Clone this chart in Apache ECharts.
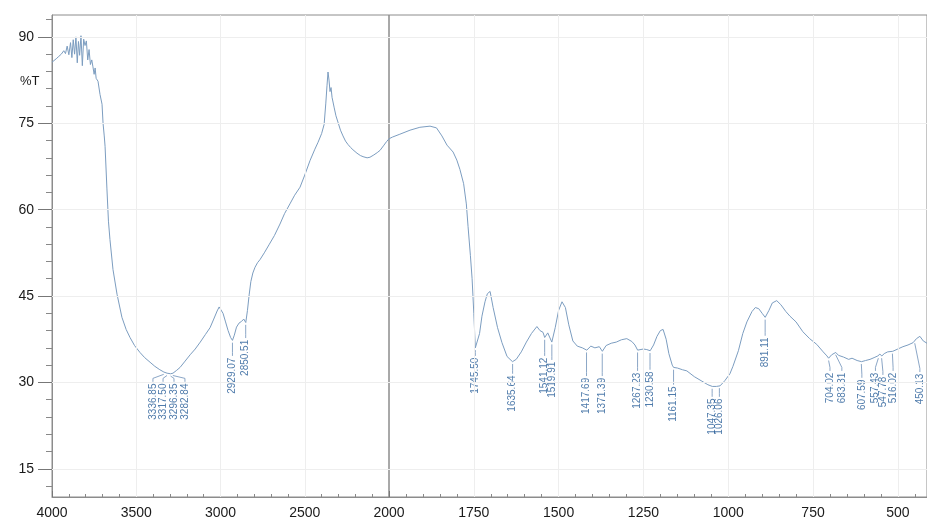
<!DOCTYPE html>
<html><head><meta charset="utf-8">
<script src="https://cdn.jsdelivr.net/npm/echarts@6/dist/echarts.min.js"></script>
<style>html,body{margin:0;padding:0;background:#fff}#c{width:927px;height:522px}</style>
</head><body><div id="c"></div>
<script>
// Spectrum, high-wavenumber part (4000-2000 cm-1), [wavenumber, %T]
const spectrumHigh = [[4000,85.6],[3990,85.8],[3975,86.2],[3960,86.6],[3945,87.0],[3930,87.6],[3920,87.1],[3910,88.4],[3900,86.9],[3890,89.0],[3882,86.4],[3874,89.5],[3866,87.0],[3858,90.0],[3850,85.5],[3843,89.2],[3836,86.8],[3828,90.2],[3820,85.0],[3812,89.6],[3804,88.5],[3796,89.3],[3788,86.0],[3780,87.8],[3772,85.2],[3764,86.0],[3757,84.8],[3750,83.5],[3744,84.6],[3738,82.8],[3727,82.3],[3715,80.0],[3703,78.3],[3697,75.0],[3690,72.8],[3685,71.0],[3674,63.6],[3665,58.0],[3656,54.8],[3638,49.6],[3614,45.3],[3585,41.3],[3560,39.2],[3537,37.8],[3510,36.4],[3478,35.2],[3450,34.3],[3418,33.5],[3390,32.8],[3360,32.2],[3336,31.8],[3317,31.6],[3296,31.5],[3282,31.6],[3260,32.1],[3240,32.6],[3210,33.7],[3180,34.8],[3150,35.8],[3120,37.0],[3090,38.3],[3062,39.5],[3040,41.0],[3020,42.4],[3008,43.1],[2998,43.0],[2985,42.0],[2970,40.5],[2955,39.0],[2940,37.8],[2929,37.3],[2918,38.2],[2905,39.6],[2890,40.3],[2875,40.6],[2862,41.0],[2850,40.4],[2840,42.5],[2830,45.2],[2820,47.5],[2808,49.0],[2795,50.0],[2780,50.8],[2766,51.3],[2740,52.5],[2710,54.0],[2680,55.5],[2647,57.5],[2620,59.3],[2588,61.0],[2560,62.5],[2528,63.9],[2500,66.0],[2469,68.5],[2440,70.5],[2421,71.7],[2400,73.2],[2385,74.8],[2375,78.5],[2368,81.5],[2362,83.9],[2356,82.5],[2350,80.5],[2344,81.2],[2338,79.5],[2326,77.8],[2315,76.3],[2303,75.2],[2288,73.8],[2273,72.8],[2258,71.9],[2243,71.3],[2228,70.8],[2214,70.4],[2190,69.8],[2170,69.4],[2154,69.2],[2130,69.0],[2113,69.1],[2090,69.5],[2070,69.9],[2053,70.3],[2030,71.2],[2015,71.8],[2000,72.3]];

// Spectrum, low-wavenumber part (2000-414 cm-1)
const spectrumLow = [[2000,72.3],[1990,72.6],[1968,73.1],[1938,73.8],[1909,74.3],[1879,74.5],[1860,74.2],[1844,72.8],[1829,71.2],[1811,70.0],[1800,68.6],[1791,67.0],[1780,64.5],[1772,61.0],[1767,57.1],[1760,52.0],[1755,48.0],[1750,42.0],[1745.5,36.0],[1741,35.7],[1733,38.5],[1726,41.5],[1717,44.0],[1710,45.4],[1702,45.8],[1693,43.0],[1680,39.5],[1667,36.9],[1652,34.5],[1636,33.6],[1625,34.0],[1610,35.3],[1595,37.0],[1580,38.5],[1564,39.7],[1555,39.0],[1546,38.7],[1541,37.8],[1532,38.6],[1520,37.0],[1510,39.5],[1500,42.5],[1490,44.0],[1480,43.0],[1470,40.0],[1458,37.2],[1445,36.3],[1430,36.0],[1417,35.6],[1405,36.3],[1393,36.0],[1380,36.2],[1371,35.4],[1360,36.4],[1345,36.8],[1330,37.0],[1315,37.4],[1299,37.6],[1284,37.1],[1275,36.5],[1267,35.6],[1250,35.8],[1240,35.7],[1230,35.5],[1220,36.5],[1210,38.0],[1200,39.0],[1192,39.2],[1183,37.5],[1175,35.0],[1165,33.0],[1161,32.6],[1150,32.5],[1135,32.2],[1122,32.0],[1100,31.0],[1080,30.3],[1060,29.6],[1047,29.3],[1035,29.3],[1024,29.4],[1010,30.3],[995,31.5],[986,32.8],[970,35.5],[957,38.5],[945,40.5],[930,42.3],[920,43.0],[910,42.8],[900,42.0],[891,41.3],[880,42.5],[870,43.8],[857,44.2],[845,43.5],[830,42.3],[818,41.5],[800,40.5],[780,38.8],[760,37.6],[739,36.6],[720,35.3],[709,34.6],[704,34.2],[695,34.8],[683,35.2],[675,34.7],[660,34.4],[645,34.0],[635,34.2],[620,33.8],[607,33.6],[595,33.8],[582,34.0],[570,34.3],[559,34.6],[553,34.9],[547,34.6],[540,35.0],[530,35.3],[515,35.4],[500,35.8],[485,36.2],[470,36.5],[455,36.9],[445,37.6],[435,38.0],[425,37.2],[414,36.8]];

// Axis ticks
const xTicksHigh = [2000,2500,3000,3500,4000];
const xTicksLow = [500,750,1000,1250,1500,1750];
const xMinorLow = [450,500,550,600,650,700,750,800,850,900,950,1000,1050,1100,1150,1200,1250,1300,1350,1400,1450,1500,1550,1600,1650,1700,1750,1800,1850,1900,1950];
const yTicks = [15,30,45,60,75,90];
const yMinor = [12,18,21,24,27,33,36,39,42,48,51,54,57,63,66,69,72,78,81,84,87,93];

// Peak annotations
const peakText = ['3336.85','3317.50','3296.35','3282.84','2929.07','2850.51','1745.50','1635.64','1541.12','1519.91','1417.69','1371.39','1267.23','1230.58','1161.15','1047.35','1026.06','891.11','704.02','683.31','607.59','557.43','547.78','516.02','450.13'];
const peakT = [31.8,31.6,31.5,31.6,37.3,40.4,36.0,33.6,37.8,37.0,35.6,35.4,35.6,35.5,32.6,29.3,29.4,41.3,34.2,35.2,33.6,34.6,34.6,35.4,37.2];
const labelWn = [3401,3341,3276,3211,2929.07,2850.51,1745.5,1635.64,1541.12,1519.91,1417.69,1371.39,1267.23,1230.58,1161.15,1047.35,1026.06,891.11,700,665,606,566,544,514,435];
const labelTopT = [29.8,29.8,29.8,29.8,34.3,37.4,34.3,31.2,34.3,33.6,30.8,30.8,31.7,31.9,29.3,27.2,27.2,37.8,31.7,31.7,30.5,31.7,31.0,31.7,31.5];

const Y_MIN = 10.1, Y_MAX = 93.8;
const FONT = 'Liberation Sans';
const AXIS_C = '#8c8c8c';
const GRID_C = '#eeeeee';
const LINE_C = '#7c9dc0';
const LABEL_C = '#235a96';

const peaks = peakText.map((t, i) => ({text: t, wn: parseFloat(t), t: peakT[i], lx: labelWn[i], ly: labelTopT[i]}));
const peaksHigh = peaks.filter(p => p.wn >= 2000);
const peaksLow = peaks.filter(p => p.wn < 2000);

function connectorData(list) {
  const out = [];
  list.forEach(p => {
    out.push([p.wn, p.t - 0.4]);
    out.push([p.lx, p.ly + 0.9]);
    out.push([p.lx, p.ly + 0.3]);
    out.push('-');
  });
  return out;
}
function connectorSeries(list, xi, yi) {
  return {type: 'line', xAxisIndex: xi, yAxisIndex: yi, data: connectorData(list), showSymbol: false, silent: true,
    connectNulls: false, lineStyle: {color: '#6d8fb8', width: 0.8}, z: 3};
}
function labelSeries(list, xi, yi) {
  return {type: 'scatter', xAxisIndex: xi, yAxisIndex: yi, symbolSize: 0, silent: true, z: 4,
    data: list.map(p => [p.lx, p.ly, p.text]),
    label: {show: true, position: 'inside', rotate: 90, align: 'right', verticalAlign: 'middle',
      fontSize: 10, fontFamily: FONT, color: LABEL_C, formatter: d => d.value[2]}};
}
function gridLines(xs) {
  return {silent: true, symbol: 'none', label: {show: false}, lineStyle: {color: GRID_C, width: 1, type: 'solid'},
    animation: false,
    data: xs.map(v => ({xAxis: v})).concat(yTicks.map(v => ({yAxis: v})))};
}
const plain = v => String(v);

const chart = echarts.init(document.getElementById('c'));
chart.setOption({
  animation: false,
  backgroundColor: '#ffffff',
  grid: [
    {left: 52, top: 15, width: 337, bottom: 25, show: true, borderColor: AXIS_C, borderWidth: 1},
    {left: 389, top: 15, right: -2, bottom: 25, show: true, borderColor: AXIS_C, borderWidth: 1}
  ],
  xAxis: [
    {type: 'value', gridIndex: 0, min: 2000, max: 4000, interval: 500, inverse: true,
      axisLine: {show: true, lineStyle: {color: AXIS_C}},
      axisTick: {show: true, inside: true, length: 6, lineStyle: {color: '#777'}},
      minorTick: {show: true, splitNumber: 5, length: 3, lineStyle: {color: '#888'}},
      axisLabel: {fontSize: 14, fontFamily: FONT, color: '#1a1a1a', margin: 9, formatter: plain},
      splitLine: {show: false}},
    {type: 'value', gridIndex: 1, min: 414, max: 2000, inverse: true,
      axisLine: {show: true, lineStyle: {color: AXIS_C}},
      axisTick: {show: true, inside: true, length: 6, customValues: xTicksLow, lineStyle: {color: '#777'}},
      axisLabel: {fontSize: 14, fontFamily: FONT, color: '#1a1a1a', margin: 9, customValues: xTicksLow, formatter: plain},
      splitLine: {show: false}},
    {type: 'value', gridIndex: 1, min: 414, max: 2000, inverse: true, position: 'bottom',
      axisLine: {show: false},
      axisTick: {show: true, inside: true, length: 3, customValues: xMinorLow, lineStyle: {color: '#888'}},
      axisLabel: {show: false}, splitLine: {show: false}}
  ],
  yAxis: [
    {type: 'value', gridIndex: 0, min: Y_MIN, max: Y_MAX, position: 'left',
      axisLine: {show: true, lineStyle: {color: AXIS_C}},
      axisTick: {show: true, length: 14, customValues: yTicks, lineStyle: {color: '#777'}},
      axisLabel: {fontSize: 14, fontFamily: FONT, color: '#1a1a1a', margin: 18, customValues: yTicks},
      splitLine: {show: false}},
    {type: 'value', gridIndex: 0, min: Y_MIN, max: Y_MAX, position: 'left',
      axisLine: {show: false},
      axisTick: {show: true, length: 6, customValues: yMinor, lineStyle: {color: '#888'}},
      axisLabel: {show: false}, splitLine: {show: false}},
    {type: 'value', gridIndex: 1, min: Y_MIN, max: Y_MAX, show: false}
  ],
  graphic: [
    {type: 'text', left: 20, top: 75, style: {text: '%T', fontSize: 13, fontFamily: FONT, fill: '#1a1a1a'}}
  ],
  series: [
    {type: 'line', xAxisIndex: 0, yAxisIndex: 0, data: spectrumHigh, showSymbol: false, silent: true,
      lineStyle: {color: LINE_C, width: 1}, z: 2, markLine: gridLines([2500, 3000, 3500])},
    {type: 'line', xAxisIndex: 1, yAxisIndex: 2, data: spectrumLow, showSymbol: false, silent: true,
      lineStyle: {color: LINE_C, width: 1}, z: 2, markLine: gridLines(xTicksLow)},
    connectorSeries(peaksHigh, 0, 0),
    connectorSeries(peaksLow, 1, 2),
    labelSeries(peaksHigh, 0, 0),
    labelSeries(peaksLow, 1, 2)
  ]
});
</script>
</body></html>
